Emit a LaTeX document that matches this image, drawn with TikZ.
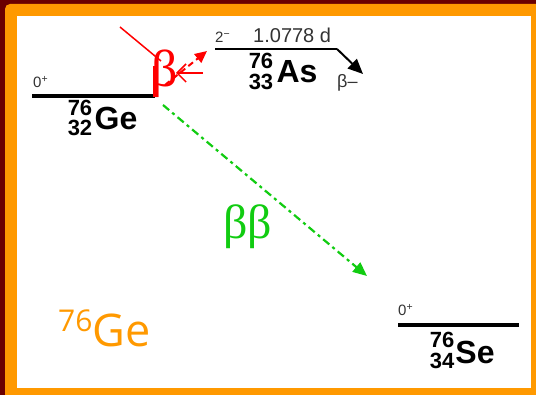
\documentclass[tikz,border=0pt]{standalone}
\usepackage{fontspec}
\setmainfont{Liberation Sans}
\newfontfamily\serifgr{Liberation Serif}
\newfontfamily\osans{Open Sans}
\usetikzlibrary{arrows.meta}
\definecolor{bgred}{HTML}{6B0000}
\definecolor{frameor}{HTML}{FF9900}
\definecolor{ddgreen}{HTML}{11CC11}
\definecolor{ddred}{HTML}{FF0000}
\definecolor{txtgray}{HTML}{333333}
\tikzset{
  level/.style={line width=3.5pt, black},
  numlab/.style={inner sep=0pt, anchor=center, font=\bfseries\fontsize{22}{22}\selectfont},
  elemlab/.style={inner sep=0pt, anchor=center, font=\bfseries\fontsize{32}{32}\selectfont},
  spinlab/.style={inner sep=0pt, anchor=base west, text=txtgray, font=\fontsize{15}{15}\selectfont},
  greyinfo/.style={inner sep=0pt, anchor=base west, text=txtgray, font=\fontsize{20}{20}\selectfont},
}
\begin{document}
\begin{tikzpicture}[x=1pt,y=-1pt]
\useasboundingbox (0,0) rectangle (536,395);
% frame
\fill[bgred] (0,0) rectangle (536,395);
\fill[frameor] (5,395) [rounded corners=5pt] -- (5,4) [sharp corners] -- (536,4) -- (536,395) -- cycle;
\fill[white] (17,16) rectangle (531,388);

% Ge level
\coordinate (geL) at (32,96);
\coordinate (geR) at (155,96);
\draw[level] (geL) -- (geR);
\node[spinlab] (gespin) at (33,88) {0\textsuperscript{+}};
\node[numlab] (gea) at (80,107.5) {76};
\node[numlab] (gez) at (80,128) {32};
\node[elemlab] (geel) at (116,118) {Ge};

% As level
\coordinate (asL) at (215,49);
\coordinate (asR) at (337,49);
\coordinate (asEnd) at (363,74);
\draw[line width=2.5pt, black] (asL) -- (asR);
\draw[line width=2pt, black, -{Triangle[length=15pt,width=13pt]}] (asR) -- (asEnd);
\node[spinlab] (asspin) at (215,43) {2\textsuperscript{−}};
\node[greyinfo] (ashalf) at (253,43) {1.0778 d};
\node[numlab] (asa) at (261,60.5) {76};
\node[numlab] (asz) at (261,82) {33};
\node[elemlab] (asel) at (297,72) {As};
\node[inner sep=0pt, anchor=base west, text=txtgray, font=\fontsize{18}{18}\selectfont] (asmode) at (337,88) {β–};

% Se level
\coordinate (seL) at (398,325);
\coordinate (seR) at (519,325);
\draw[level] (seL) -- (seR);
\node[spinlab] (sespin) at (398,316) {0\textsuperscript{+}};
\node[numlab] (sea) at (442,339.5) {76};
\node[numlab] (sez) at (442,361) {34};
\node[elemlab] (seel) at (475,352.5) {Se};

% red single-beta (forbidden) mark
\coordinate (rl1) at (120,27);
\coordinate (rl2) at (161,61);
\draw[ddred, line width=1.5pt] (rl1) -- (rl2);
\coordinate (rv1) at (155,66);
\coordinate (rv2) at (155,97);
\draw[ddred, line width=3.5pt] (rv1) -- (rv2);
\node[inner sep=0pt, anchor=base west, text=ddred, font=\serifgr\fontsize{52}{52}\selectfont] (redbeta) at (151,87) {β};
\coordinate (ra1) at (203,73);
\coordinate (ra2) at (176,73);
\draw[ddred, line width=1.5pt, -{Straight Barb[length=9pt,width=18pt]}] (ra1) -- (ra2);
\coordinate (rd1) at (165,85);
\coordinate (rd2) at (207,51);
\draw[ddred, line width=2pt, dash pattern=on 6pt off 4pt, -{Triangle[length=12pt,width=11pt]}] (rd1) -- (rd2);

% double beta
\coordinate (gb1) at (163,105);
\coordinate (gb2) at (367,276);
\draw[ddgreen, line width=2.2pt, dash pattern=on 8pt off 4pt on 3pt off 4pt, -{Triangle[length=14pt,width=12pt]}] (gb1) -- (gb2);
\node[inner sep=0pt, anchor=base west, text=ddgreen, font=\serifgr\fontsize{48}{48}\selectfont] (bb) at (223,239) {ββ};

% orange label
\node[inner sep=0pt, anchor=base west, text=frameor, font=\osans] (orge) at (58,347)
  {\raisebox{15pt}{\fontsize{30}{30}\selectfont 76}\fontsize{45}{45}\selectfont Ge};
\end{tikzpicture}
\end{document}
